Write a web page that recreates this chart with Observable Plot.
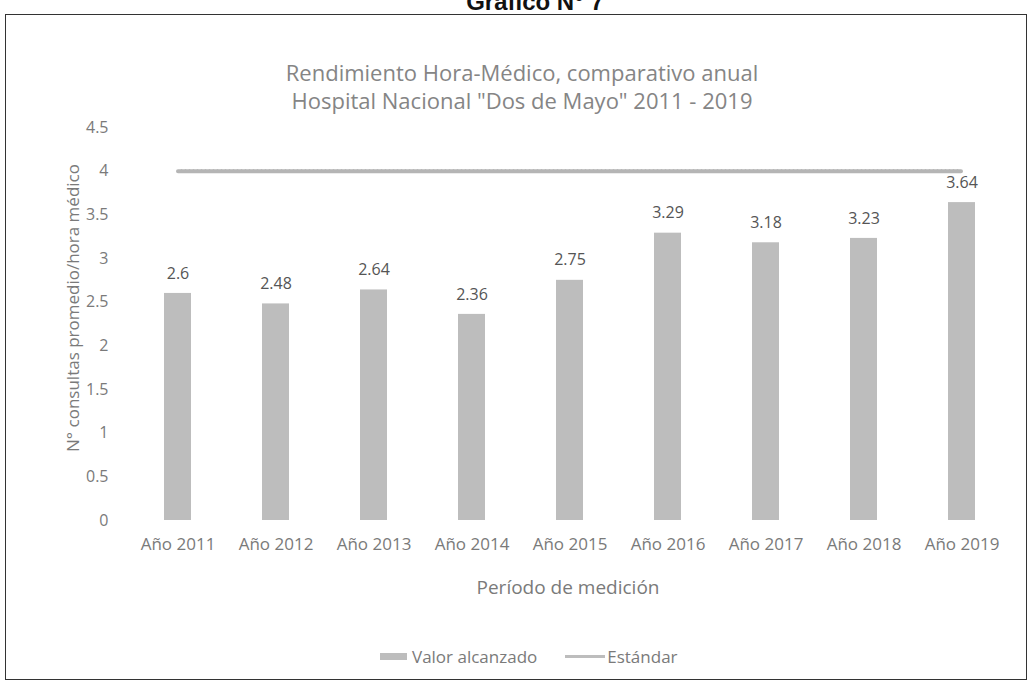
<!DOCTYPE html>
<html>
<head>
<meta charset="utf-8">
<script src="https://cdn.jsdelivr.net/npm/d3@7"></script>
<script src="https://cdn.jsdelivr.net/npm/@observablehq/plot@0.6"></script>
<style>
  html, body { margin: 0; padding: 0; background: #fff; }
  #page { position: relative; width: 1033px; height: 688px; overflow: hidden; font-family: "Open Sans", Lato, sans-serif; }
  #frame { position: absolute; left: 5px; top: 14px; width: 1022px; height: 666px; border: 1px solid #333; box-sizing: border-box; }
  .abs { position: absolute; white-space: nowrap; line-height: 1; }
  #heading { left: 0; width: 1070px; top: -12px; text-align: center; font: bold 24px "Liberation Sans", Arial, sans-serif; color: #111; }
  .title { left: 0; width: 1044px; text-align: center; font-size: 22px; color: #858585; }
  #ylabel { left: 72px; top: 308px; transform: translate(-50%, -50%) rotate(-90deg); font-size: 17px; color: #7a7a7a; }
  #xlabel { left: 0; width: 1136px; top: 578px; text-align: center; font-size: 19px; color: #7a7a7a; }
  #legend { left: 380px; top: 648px; font-size: 17px; color: #7a7a7a; display: flex; align-items: center; }
  .sw { display: inline-block; }
  #plot { position: absolute; left: 0; top: 110px; }
</style>
</head>
<body>
<div id="page">
  <div class="abs" id="heading">Gráfico N° 7</div>
  <div id="frame"></div>
  <div class="abs title" style="top:61px">Rendimiento Hora-Médico, comparativo anual</div>
  <div class="abs title" style="top:89px">Hospital Nacional "Dos de Mayo" 2011 - 2019</div>
  <div class="abs" id="ylabel">N° consultas promedio/hora médico</div>
  <div class="abs" id="xlabel">Período de medición</div>
  <div class="abs" id="legend">
    <span class="sw" style="width:27px;height:7px;background:#bdbdbd;margin-right:5px"></span>
    <span>Valor alcanzado</span>
    <span class="sw" style="width:40px;height:3px;background:#bdbdbd;margin-left:28px;margin-right:2px"></span>
    <span>Estándar</span>
  </div>
  <div id="plot"></div>
</div>
<script>
const categories = ["Año 2011", "Año 2012", "Año 2013", "Año 2014", "Año 2015", "Año 2016", "Año 2017", "Año 2018", "Año 2019"];
const valorAlcanzado = [2.6, 2.48, 2.64, 2.36, 2.75, 3.29, 3.18, 3.23, 3.64];
const valorLabels = ["2.6", "2.48", "2.64", "2.36", "2.75", "3.29", "3.18", "3.23", "3.64"];
const estandar = [4, 4, 4, 4, 4, 4, 4, 4, 4];
const yTicks = [0, 0.5, 1, 1.5, 2, 2.5, 3, 3.5, 4, 4.5];

const bars = categories.map((c, i) => ({cat: c, v: valorAlcanzado[i], label: valorLabels[i]}));
const std = categories.map((c, i) => ({cat: c, v: estandar[i]}));

const chart = Plot.plot({
  width: 1033,
  height: 500,
  marginTop: 17,
  marginBottom: 90,
  marginLeft: 122,
  marginRight: 10,
  style: {fontFamily: "'Open Sans', Lato, sans-serif", background: "transparent"},
  x: {domain: categories, range: [124.5, 1014.5], paddingInner: 0.727, paddingOuter: 0.3635, label: null},
  y: {domain: [0, 4.5], label: null},
  marks: [
    Plot.barY(bars, {x: "cat", y: "v", fill: "#bdbdbd"}),
    Plot.lineY(std, {x: "cat", y: "v", stroke: "#b5b5b5", strokeWidth: 4, strokeDasharray: "3,1"}),
    Plot.text(bars, {x: "cat", y: "v", text: "label", dy: -20, fontSize: 16, fill: "#555"}),
    Plot.axisY({ticks: yTicks, tickSize: 0, tickPadding: 14, tickFormat: d => String(d), fontSize: 16, color: "#7a7a7a", label: null}),
    Plot.axisX({tickSize: 0, tickPadding: 17, fontSize: 17, color: "#7a7a7a", label: null})
  ]
});
document.getElementById("plot").appendChild(chart);
</script>
</body>
</html>
